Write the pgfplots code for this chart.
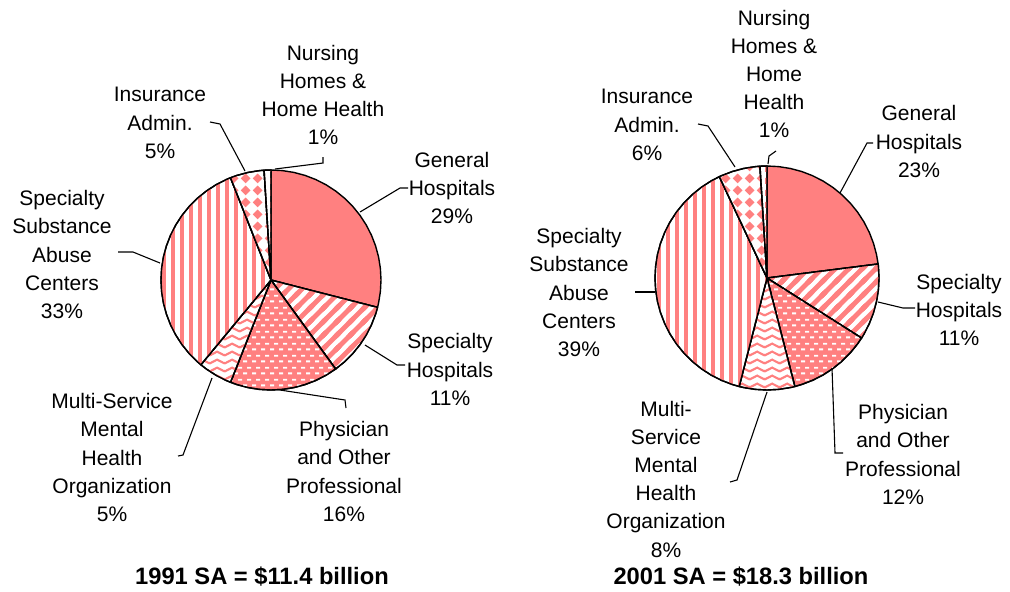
\documentclass[border=0pt]{standalone}
\usepackage{pgfplots}
\pgfplotsset{compat=1.18}
\usepackage{fontspec}
\setmainfont{Liberation Sans}
\usetikzlibrary{patterns}

\definecolor{salmon}{HTML}{FF8080}

% patterns
\pgfdeclarepatternformonly{vstripes}{\pgfpointorigin}{\pgfpoint{4.5pt}{30pt}}{\pgfpoint{4.5pt}{30pt}}{%
  \pgfpathrectangle{\pgfpoint{0pt}{-1pt}}{\pgfpoint{2.1pt}{32pt}}\pgfusepath{fill}}
\pgfdeclarepatternformonly{vdash}{\pgfpointorigin}{\pgfpoint{4.5pt}{6pt}}{\pgfpoint{4.5pt}{6pt}}{%
  \pgfpathrectangle{\pgfpointorigin}{\pgfpoint{1.8pt}{3.3pt}}\pgfusepath{fill}}
\pgfdeclarepatternformonly{dstripes}{\pgfpoint{-1.5pt}{-1.5pt}}{\pgfpoint{8.25pt}{8.25pt}}{\pgfpoint{6.75pt}{6.75pt}}{%
  \pgfsetlinewidth{2.4pt}
  \pgfpathmoveto{\pgfpoint{-1.5pt}{-1.5pt}}\pgfpathlineto{\pgfpoint{8.25pt}{8.25pt}}
  \pgfpathmoveto{\pgfpoint{-1.5pt}{5.25pt}}\pgfpathlineto{\pgfpoint{1.5pt}{8.25pt}}
  \pgfpathmoveto{\pgfpoint{5.25pt}{-1.5pt}}\pgfpathlineto{\pgfpoint{8.25pt}{1.5pt}}
  \pgfusepath{stroke}}
\pgfdeclarepatternformonly{wdash}{\pgfpointorigin}{\pgfpoint{4.5pt}{6pt}}{\pgfpoint{4.5pt}{6pt}}{%
  \pgfpathrectangle{\pgfpoint{0pt}{0.9pt}}{\pgfpoint{2.25pt}{1.05pt}}
  \pgfpathrectangle{\pgfpoint{2.25pt}{3.9pt}}{\pgfpoint{2.25pt}{1.05pt}}
  \pgfusepath{fill}}
\pgfdeclarepatternformonly{waves}{\pgfpoint{0pt}{0pt}}{\pgfpoint{7.5pt}{3.75pt}}{\pgfpoint{7.5pt}{3.75pt}}{%
  \pgfsetlinewidth{1.1pt}
  \pgfpathmoveto{\pgfpoint{-0.75pt}{1.35pt}}
  \pgfpathlineto{\pgfpoint{0pt}{0.9pt}}
  \pgfpathlineto{\pgfpoint{3.75pt}{2.85pt}}
  \pgfpathlineto{\pgfpoint{7.5pt}{0.9pt}}
  \pgfpathlineto{\pgfpoint{8.25pt}{1.35pt}}
  \pgfusepath{stroke}}
\pgfdeclarepatternformonly{diamonds}{\pgfpointorigin}{\pgfpoint{6pt}{6pt}}{\pgfpoint{6pt}{6pt}}{%
  \pgfpathmoveto{\pgfpoint{3pt}{0.4pt}}
  \pgfpathlineto{\pgfpoint{5.6pt}{3pt}}
  \pgfpathlineto{\pgfpoint{3pt}{5.6pt}}
  \pgfpathlineto{\pgfpoint{0.4pt}{3pt}}
  \pgfpathclose\pgfusepath{fill}}

\pgfplotsset{
  pieaxis/.style={hide axis, anchor=center, clip=false,
    xmin=-1.05, xmax=1.05, ymin=-1.05, ymax=1.05},
  slice/.style={draw=black, line width=0.7pt, line join=round, data cs=polar},
  sGen/.style={slice, fill=salmon},
  sSpec/.style={slice, preaction={fill=white}, pattern=dstripes, pattern color=salmon},
  sPhys/.style={slice, preaction={fill=salmon}, pattern=wdash, pattern color=white},
  sMulti/.style={slice, preaction={fill=white}, pattern=waves, pattern color=salmon},
  sSub/.style={slice, preaction={fill=white}, pattern=vstripes, pattern color=salmon},
  sIns/.style={slice, preaction={fill=white}, pattern=diamonds, pattern color=salmon},
  sNurs/.style={slice, preaction={fill=white}, pattern=vdash, pattern color=salmon},
}

\newcommand{\lab}{\fontsize{10.5}{14.1}\selectfont}

\begin{document}
\begin{tikzpicture}
\begin{scope}[x=0.5pt, y=-0.5pt]
  \useasboundingbox (0,0) rectangle (1010,591);
  \coordinate (c1) at (271,280);
  \coordinate (c2) at (767,278);
\end{scope}

% 1991: General 29, Specialty Hosp 11, Physician 16, Multi-Service 5,
% Substance Abuse 33, Insurance 5, Nursing 1  (angles = 90 - 3.6*cum%)
\begin{axis}[pieaxis, at={(c1)}, x=55pt, y=55pt]
\addplot[sGen] coordinates {(0,0)(90,1)(84,1)(78,1)(72,1)(66,1)(60,1)(54,1)(48,1)(42,1)(36,1)(30,1)(24,1)(18,1)(12,1)(6,1)(0,1)(-6,1)(-12,1)(-14.4,1)(0,0)};
\addplot[sSpec] coordinates {(0,0)(-14.4,1)(-18,1)(-24,1)(-30,1)(-36,1)(-42,1)(-48,1)(-54,1)(0,0)};
\addplot[sPhys] coordinates {(0,0)(-54,1)(-60,1)(-66,1)(-72,1)(-78,1)(-84,1)(-90,1)(-96,1)(-102,1)(-108,1)(-111.6,1)(0,0)};
\addplot[sMulti] coordinates {(0,0)(-111.6,1)(-114,1)(-120,1)(-126,1)(-129.6,1)(0,0)};
\addplot[sSub] coordinates {(0,0)(-129.6,1)(-132,1)(-138,1)(-144,1)(-150,1)(-156,1)(-162,1)(-168,1)(-174,1)(-180,1)(-186,1)(-192,1)(-198,1)(-204,1)(-210,1)(-216,1)(-222,1)(-228,1)(-234,1)(-240,1)(-246,1)(-248.4,1)(0,0)};
\addplot[sIns] coordinates {(0,0)(-248.4,1)(-252,1)(-258,1)(-264,1)(-266.4,1)(0,0)};
\addplot[sNurs] coordinates {(0,0)(-266.4,1)(-270,1)(0,0)};
\end{axis}

% 2001: General 23, Specialty Hosp 11, Physician 12, Multi-Service 8,
% Substance Abuse 39, Insurance 6, Nursing 1
\begin{axis}[pieaxis, at={(c2)}, x=56pt, y=56pt]
\addplot[sGen] coordinates {(0,0)(90,1)(84,1)(78,1)(72,1)(66,1)(60,1)(54,1)(48,1)(42,1)(36,1)(30,1)(24,1)(18,1)(12,1)(7.2,1)(0,0)};
\addplot[sSpec] coordinates {(0,0)(7.2,1)(6,1)(0,1)(-6,1)(-12,1)(-18,1)(-24,1)(-30,1)(-32.4,1)(0,0)};
\addplot[sPhys] coordinates {(0,0)(-32.4,1)(-36,1)(-42,1)(-48,1)(-54,1)(-60,1)(-66,1)(-72,1)(-75.6,1)(0,0)};
\addplot[sMulti] coordinates {(0,0)(-75.6,1)(-78,1)(-84,1)(-90,1)(-96,1)(-102,1)(-104.4,1)(0,0)};
\addplot[sSub] coordinates {(0,0)(-104.4,1)(-108,1)(-114,1)(-120,1)(-126,1)(-132,1)(-138,1)(-144,1)(-150,1)(-156,1)(-162,1)(-168,1)(-174,1)(-180,1)(-186,1)(-192,1)(-198,1)(-204,1)(-210,1)(-216,1)(-222,1)(-228,1)(-234,1)(-240,1)(-244.8,1)(0,0)};
\addplot[sIns] coordinates {(0,0)(-244.8,1)(-246,1)(-252,1)(-258,1)(-264,1)(-266.4,1)(0,0)};
\addplot[sNurs] coordinates {(0,0)(-266.4,1)(-270,1)(0,0)};
\end{axis}

\begin{scope}[x=0.5pt, y=-0.5pt, every node/.style={align=center, inner sep=0pt, font=\lab}]
  % leader lines
  \draw[line width=0.55pt] (275,169) -- (323,163) -- (323,157);
  \draw[line width=0.55pt] (210,122) -- (220,124) -- (245,171);
  \draw[line width=0.55pt] (408,188) -- (400,188) -- (360,212);
  \draw[line width=0.55pt] (118,252) -- (133,252) -- (160,263);
  \draw[line width=0.55pt] (365,345) -- (397,365) -- (405,365);
  \draw[line width=0.55pt] (280,390) -- (345,400) -- (346,408);
  \draw[line width=0.55pt] (212,378) -- (183,455) -- (178,456);

  \draw[line width=0.55pt] (768,164) -- (769,156) -- (776,151);
  \draw[line width=0.55pt] (698,124) -- (708,126) -- (735,167);
  \draw[line width=0.55pt] (873,143) -- (867,143) -- (840,193);
  \draw[line width=0.55pt] (635,292) -- (655,292);
  \draw[line width=0.55pt] (878,302) -- (903,308) -- (915,308);
  \draw[line width=0.55pt] (832,368) -- (835,453) -- (843,453);
  \draw[line width=0.55pt] (767,392) -- (737,480) -- (730,482);

  % labels 1991
  \node at (323,95) {Nursing\\Homes \&\\Home Health\\1\%};
  \node at (160,123) {Insurance\\Admin.\\5\%};
  \node at (452,188) {General\\Hospitals\\29\%};
  \node at (62,254.5) {Specialty\\Substance\\Abuse\\Centers\\33\%};
  \node at (450,369.5) {Specialty\\Hospitals\\11\%};
  \node at (344,471.5) {Physician\\and Other\\Professional\\16\%};
  \node at (112,457.5) {Multi-Service\\Mental\\Health\\Organization\\5\%};
  \node[font=\fontsize{11.85}{14}\selectfont\bfseries] at (262,577) {1991 SA = \$11.4 billion};

  % labels 2001
  \node at (774,74) {Nursing\\Homes \&\\Home\\Health\\1\%};
  \node at (647,125) {Insurance\\Admin.\\6\%};
  \node at (919,141.5) {General\\Hospitals\\23\%};
  \node at (579,292.5) {Specialty\\Substance\\Abuse\\Centers\\39\%};
  \node at (959,310) {Specialty\\Hospitals\\11\%};
  \node at (903,454.5) {Physician\\and Other\\Professional\\12\%};
  \node at (666,479) {Multi-\\Service\\Mental\\Health\\Organization\\8\%};
  \node[font=\fontsize{11.85}{14}\selectfont\bfseries] at (741,577) {2001 SA = \$18.3 billion};
\end{scope}
\end{tikzpicture}
\end{document}
